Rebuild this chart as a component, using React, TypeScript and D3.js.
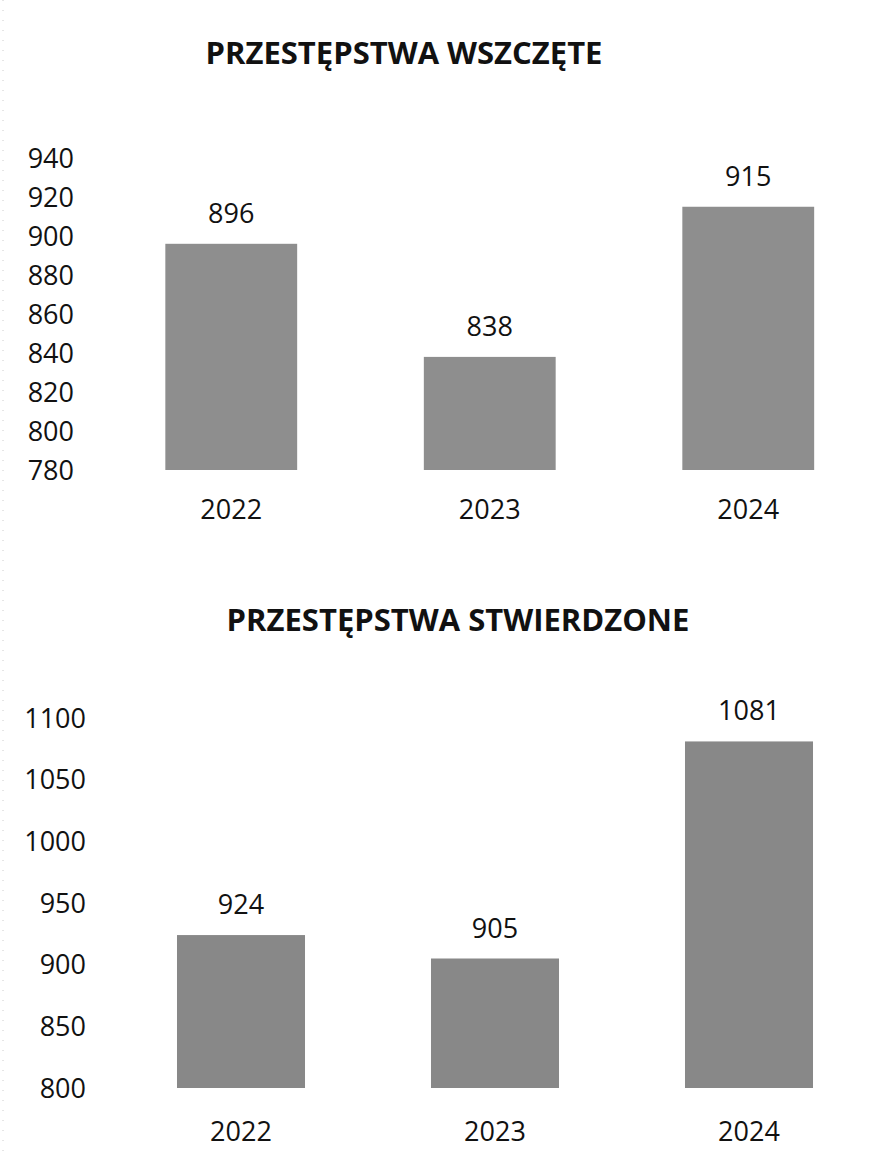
import React from "react";
import * as d3 from "d3";

const years = ["2022", "2023", "2024"];
const wszczete = [896, 838, 915];
const stwierdzone = [924, 905, 1081];
const ticks1 = [780, 800, 820, 840, 860, 880, 900, 920, 940];
const ticks2 = [800, 850, 900, 950, 1000, 1050, 1100];
const title1 = "PRZESTĘPSTWA WSZCZĘTE";
const title2 = "PRZESTĘPSTWA STWIERDZONE";

const FONT = "'Open Sans', 'Noto Sans', sans-serif";

type PanelProps = {
  title: string;
  titleX: number;
  titleY: number;
  values: number[];
  ticks: number[];
  yDomain: [number, number];
  yRange: [number, number];
  xRange: [number, number];
  pad: number;
  tickRight: number;
  catY: number;
  fill: string;
};

function Panel(p: PanelProps) {
  const y = d3.scaleLinear().domain(p.yDomain).range(p.yRange);
  const x = d3
    .scaleBand<string>()
    .domain(years)
    .range(p.xRange)
    .paddingInner(p.pad)
    .paddingOuter(p.pad / 2);
  const base = y(p.yDomain[0]);
  return (
    <g>
      <text
        x={p.titleX}
        y={p.titleY}
        textAnchor="middle"
        fontFamily={FONT}
        fontWeight={700}
        fontSize={31}
        fill="#111"
      >
        {p.title}
      </text>
      {p.ticks.map((t) => (
        <text
          key={t}
          x={p.tickRight}
          y={y(t)}
          dy="0.36em"
          textAnchor="end"
          fontFamily={FONT}
          fontSize={27}
          fill="#111"
        >
          {t}
        </text>
      ))}
      {years.map((yr, i) => {
        const v = p.values[i];
        const bx = x(yr) as number;
        const bw = x.bandwidth();
        return (
          <g key={yr}>
            <rect x={bx} y={y(v)} width={bw} height={base - y(v)} fill={p.fill} />
            <text
              x={bx + bw / 2}
              y={y(v) - 21}
              textAnchor="middle"
              fontFamily={FONT}
              fontSize={27}
              fill="#111"
            >
              {v}
            </text>
            <text
              x={bx + bw / 2}
              y={p.catY}
              textAnchor="middle"
              fontFamily={FONT}
              fontSize={27}
              fill="#111"
            >
              {yr}
            </text>
          </g>
        );
      })}
    </g>
  );
}

export default function App() {
  return (
    <svg
      width={893}
      height={1153}
      style={{ position: "absolute", left: 0, top: 0, background: "#fff" }}
    >
      <rect width={893} height={1153} fill="#fff" />
      <line x1={3} y1={0} x2={3} y2={1153} stroke="#ccc" strokeWidth={1} strokeDasharray="1 9" />
      <Panel
        title={title1}
        titleX={404}
        titleY={64}
        values={wszczete}
        ticks={ticks1}
        yDomain={[780, 940]}
        yRange={[470, 158]}
        xRange={[102, 877.5]}
        pad={0.49}
        tickRight={74}
        catY={519}
        fill="#8e8e8e"
      />
      <Panel
        title={title2}
        titleX={458}
        titleY={631}
        values={stwierdzone}
        ticks={ticks2}
        yDomain={[800, 1100]}
        yRange={[1088, 718]}
        xRange={[114, 876]}
        pad={0.496}
        tickRight={86}
        catY={1141}
        fill="#888888"
      />
    </svg>
  );
}
